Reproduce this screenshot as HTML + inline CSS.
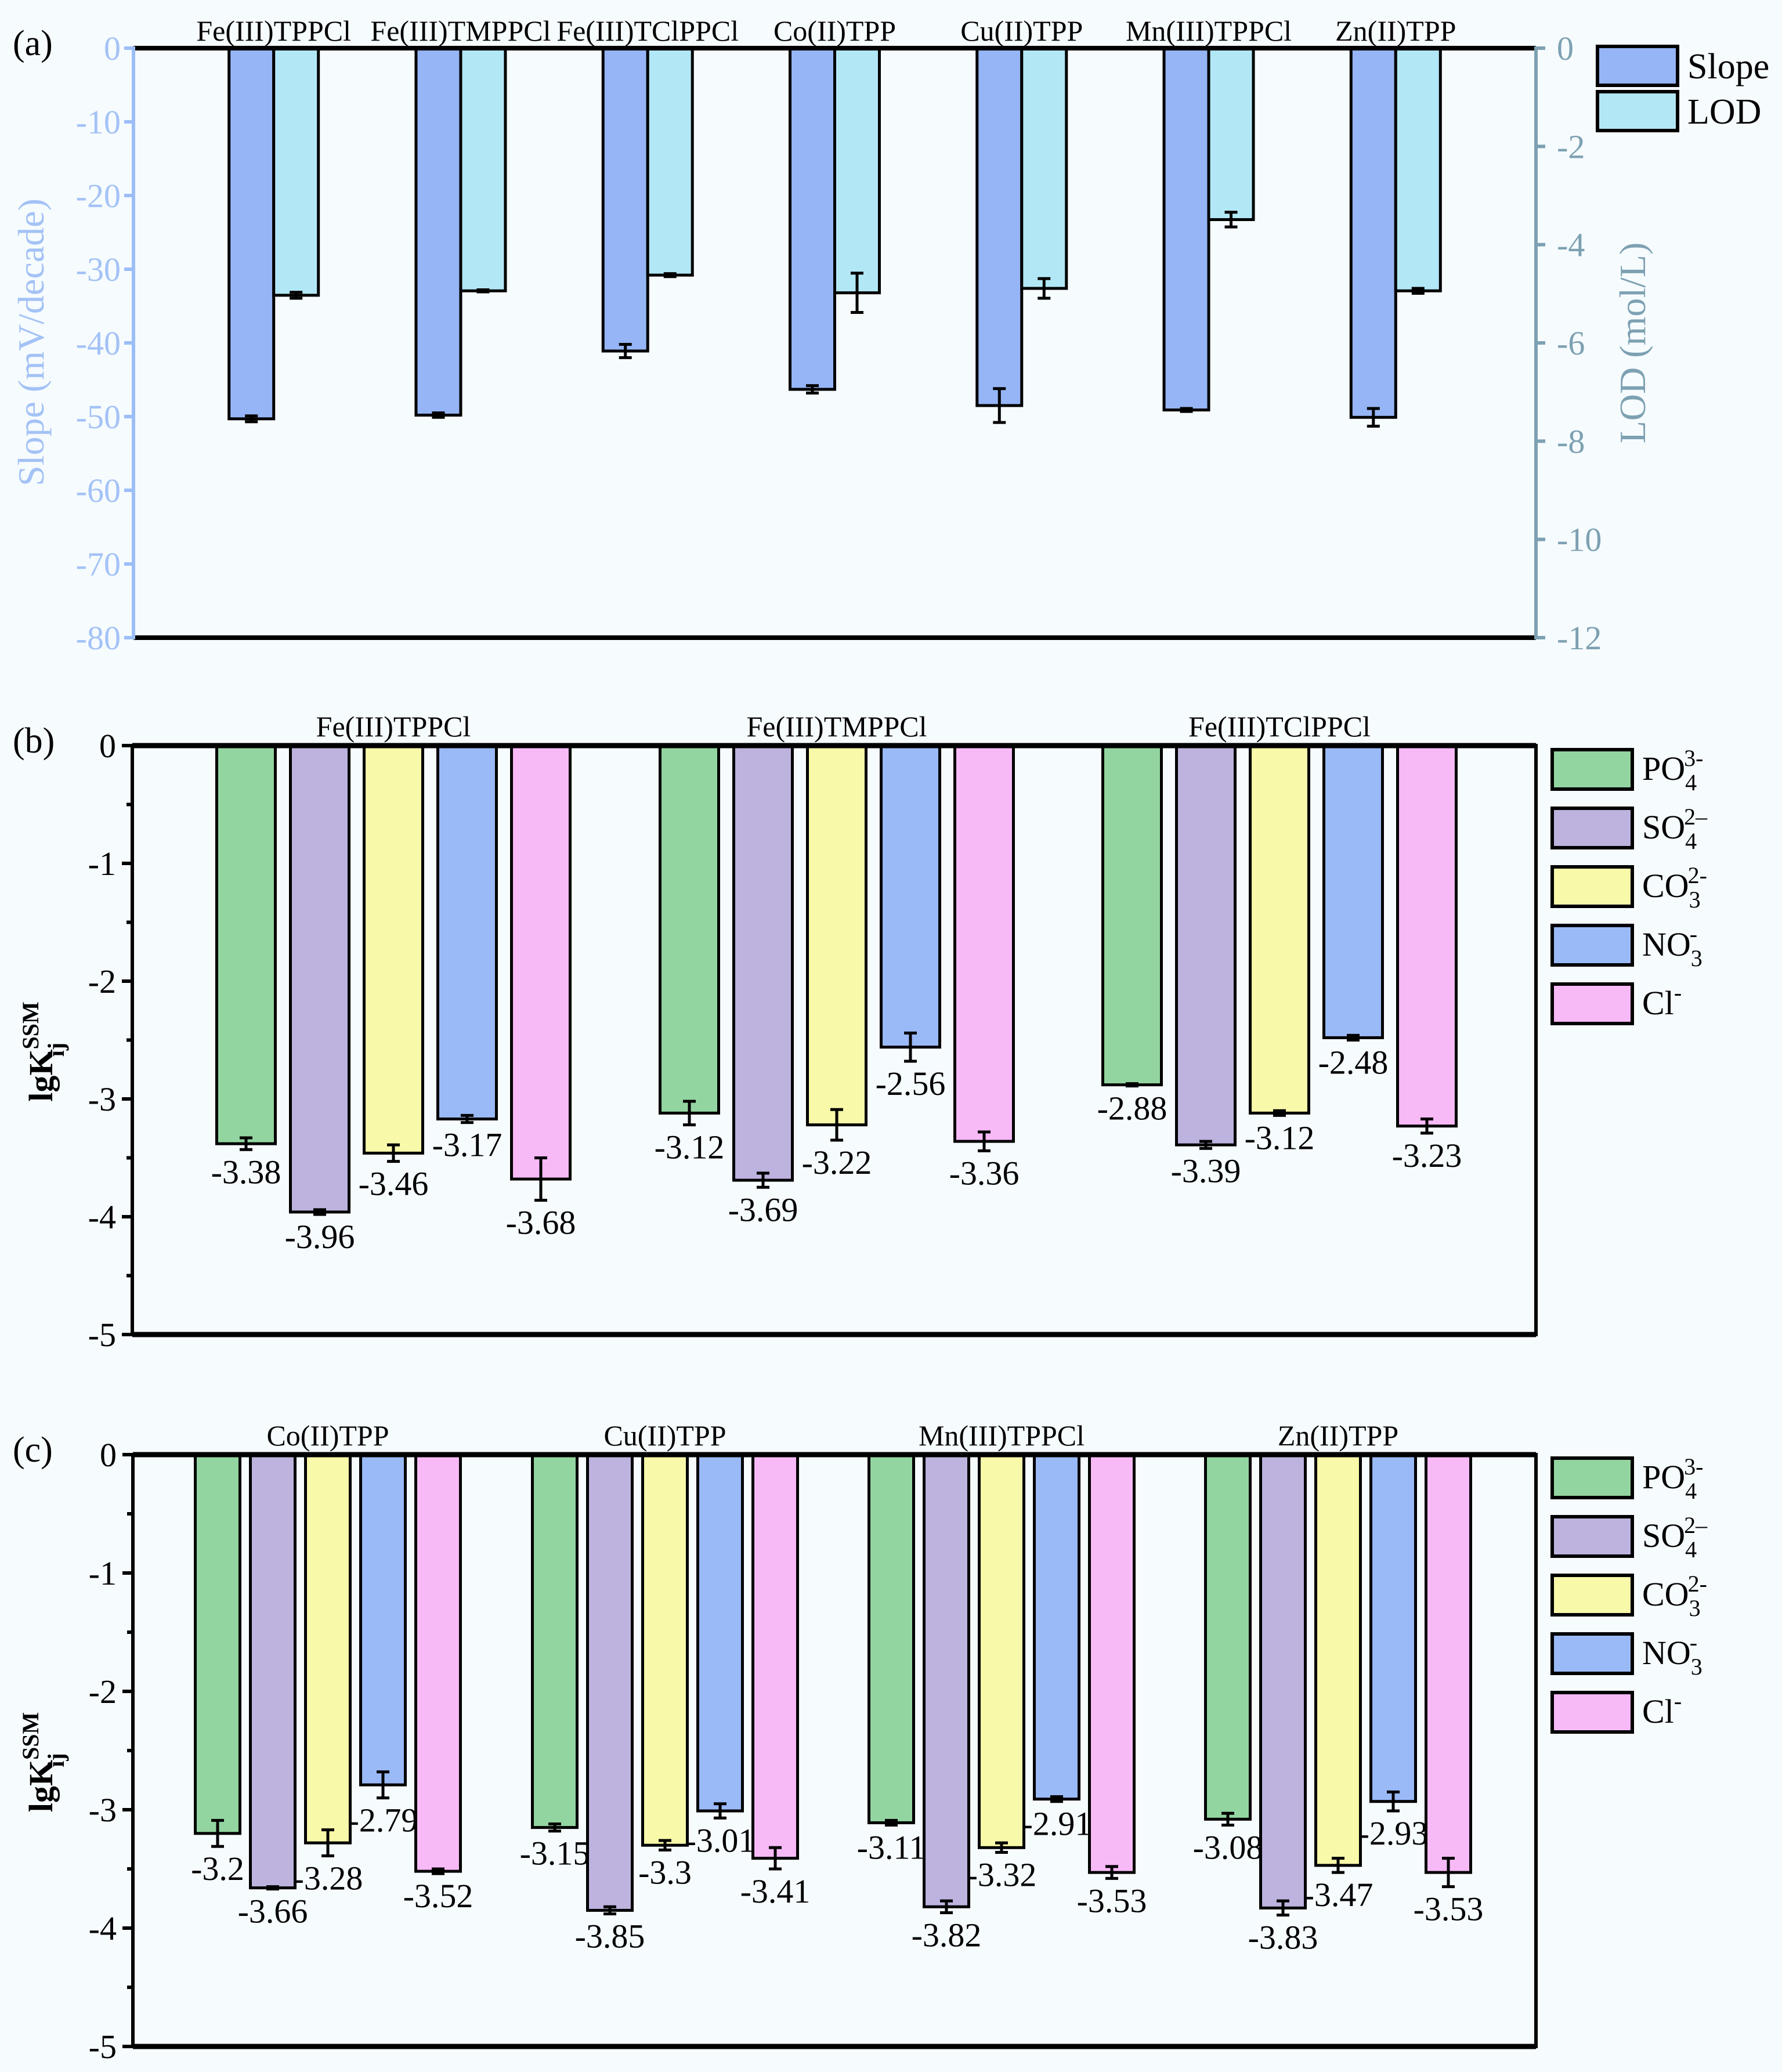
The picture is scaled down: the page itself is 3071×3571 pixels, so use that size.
<!DOCTYPE html>
<html><head><meta charset="utf-8"><style>
html,body{margin:0;padding:0;background:#f6fbfe;}
svg{display:block;font-family:"Liberation Serif",serif;}
</style></head><body>
<svg id="chart" width="3071" height="3571" viewBox="0 0 3071 3571" xmlns="http://www.w3.org/2000/svg">
<rect x="0" y="0" width="3071" height="3571" fill="#f6fbfe"/>
</svg>
<script>
// Panel (a) data
const aCategories = ["Fe(III)TPPCl","Fe(III)TMPPCl","Fe(III)TClPPCl","Co(II)TPP","Cu(II)TPP","Mn(III)TPPCl","Zn(II)TPP"];
const aSlope = [-50.3,-49.8,-41.1,-46.3,-48.5,-49.1,-50.1];
const aSlopeErr = [0.4,0.3,0.9,0.5,2.3,0.2,1.2];
const aLOD = [-5.03,-4.94,-4.62,-4.98,-4.89,-3.49,-4.94];
const aLODErr = [0.06,0.02,0.03,0.4,0.2,0.15,0.05];
const aLeftTicks = [0,-10,-20,-30,-40,-50,-60,-70,-80];
const aRightTicks = [0,-2,-4,-6,-8,-10,-12];
// Panel (b) data
const bCategories = ["Fe(III)TPPCl","Fe(III)TMPPCl","Fe(III)TClPPCl"];
const bPO4 = [-3.38,-3.12,-2.88];
const bSO4 = [-3.96,-3.69,-3.39];
const bCO3 = [-3.46,-3.22,-3.12];
const bNO3 = [-3.17,-2.56,-2.48];
const bCl  = [-3.68,-3.36,-3.23];
const bErrPO4 = [0.05,0.1,0.01];
const bErrSO4 = [0.02,0.06,0.03];
const bErrCO3 = [0.07,0.13,0.02];
const bErrNO3 = [0.03,0.12,0.02];
const bErrCl  = [0.18,0.08,0.06];
// Panel (c) data
const cCategories = ["Co(II)TPP","Cu(II)TPP","Mn(III)TPPCl","Zn(II)TPP"];
const cPO4 = [-3.2,-3.15,-3.11,-3.08];
const cSO4 = [-3.66,-3.85,-3.82,-3.83];
const cCO3 = [-3.28,-3.3,-3.32,-3.47];
const cNO3 = [-2.79,-3.01,-2.91,-2.93];
const cCl  = [-3.52,-3.41,-3.53,-3.53];
const cErrPO4 = [0.11,0.03,0.02,0.05];
const cErrSO4 = [0.01,0.03,0.05,0.06];
const cErrCO3 = [0.11,0.04,0.04,0.06];
const cErrNO3 = [0.11,0.06,0.02,0.08];
const cErrCl  = [0.02,0.09,0.05,0.12];
const lgTicks = [0,-1,-2,-3,-4,-5];
const ionNames = ["PO4","SO4","CO3","NO3","Cl"];

const NS = "http://www.w3.org/2000/svg";
const svg = document.getElementById('chart');
function mk(tag, attrs, parent){
  const e = document.createElementNS(NS, tag);
  for (const k in attrs) e.setAttribute(k, attrs[k]);
  (parent||svg).appendChild(e);
  return e;
}
function txt(s, attrs, parent){ const e = mk('text', attrs, parent); e.textContent = s; return e; }
function errBar(g, x, y1, y2){
  const e = mk('path', {d:`M${x},${y1}V${y2}M${x-11},${y1}H${x+11}M${x-11},${y2}H${x+11}`, stroke:'#000','stroke-width':5,fill:'none'}, g);
  
  
}

// ===== Panel (a) =====
(function(){
  const L=230, R=2647, T=83, B=1099;
  const ys = v => T + (v/-80)*(B-T);
  const yr = v => T + (v/-12)*(B-T);
  const pitch = (R-L)/7.5, first = L + 0.75*pitch, bw = 77;
  const gx = i => first + i*pitch;
  const g = mk('g', {});  
  const pl = txt('(a)', {x:22, y:95, 'font-size':62}, g);
   
  aCategories.forEach((c,i)=>{
    const x = gx(i);
    const sb = mk('rect', {x:x-bw, y:T, width:bw, height:ys(aSlope[i])-T, fill:'#96b5f6', stroke:'#000','stroke-width':5}, g);
     
    const lb = mk('rect', {x:x, y:T, width:bw, height:yr(aLOD[i])-T, fill:'#b2e7f6', stroke:'#000','stroke-width':5}, g);
     
    errBar(g, x-bw/2, ys(aSlope[i]-aSlopeErr[i]), ys(aSlope[i]+aSlopeErr[i]));
    errBar(g, x+bw/2, yr(aLOD[i]-aLODErr[i]), yr(aLOD[i]+aLODErr[i]));
    const t = txt(c, {x:x, y:70, 'font-size':50, 'text-anchor':'middle'}, g);
     
  });
  const top = mk('line',{x1:L,y1:T,x2:R,y2:T,stroke:'#000','stroke-width':8},g);
   
  const bot = mk('line',{x1:L,y1:B,x2:R,y2:B,stroke:'#000','stroke-width':8},g);
   
  const la = mk('line',{x1:L,y1:T-3,x2:L,y2:B+3,stroke:'#9cbef7','stroke-width':6},g);
   
  const ra = mk('line',{x1:R,y1:T-3,x2:R,y2:B+3,stroke:'#7da1b2','stroke-width':6},g);
   
  aLeftTicks.forEach(v=>{
    mk('line',{x1:L-16,y1:ys(v),x2:L,y2:ys(v),stroke:'#9cbef7','stroke-width':6},g);
    const t = txt(String(v),{x:L-22,y:ys(v)+20,'font-size':58,'text-anchor':'end',fill:'#a3c2f6'},g);
     
  });
  aRightTicks.forEach(v=>{
    mk('line',{x1:R,y1:yr(v),x2:R+16,y2:yr(v),stroke:'#7da1b2','stroke-width':6},g);
    const t = txt(String(v),{x:R+36,y:yr(v)+20,'font-size':58,'text-anchor':'start',fill:'#7da1b2'},g);
     
  });
  const lt = txt('Slope (mV/decade)',{x:0,y:0,'font-size':64,'text-anchor':'middle',fill:'#a3c2f6',transform:'translate(75,590) rotate(-90)'},g);
   
  const rt = txt('LOD (mol/L)',{x:0,y:0,'font-size':64,'text-anchor':'middle',fill:'#7da1b2',transform:'translate(2835,591) rotate(-90)'},g);
   
  const leg = mk('g',{},g);  
  const r1 = mk('rect',{x:2753,y:80,width:138,height:67,fill:'#96b5f6',stroke:'#000','stroke-width':6},leg);
   
  const r2 = mk('rect',{x:2753,y:158,width:138,height:67,fill:'#b2e7f6',stroke:'#000','stroke-width':6},leg);
   
  const s1 = txt('Slope',{x:2908,y:135,'font-size':62},leg);
   
  const s2 = txt('LOD',{x:2908,y:213,'font-size':62},leg);
   
})();

// ===== Panels (b) and (c) =====
const ionColors = ['#93d5a1','#bdb3de','#f8f9a9','#9ab9f7','#f8b9f7'];
function lgPanel(opts){
  const {name, letter, L, R, T, B, cats, series, errs, centers, bw, pitch, legY} = opts;
  const y = v => T + (v/-5)*(B-T);
  const g = mk('g', {});  
  const pl = txt(letter, {x:22, y:T+12, 'font-size':62}, g);
   
  cats.forEach((c,i)=>{
    const cx = centers[i];
    const t = txt(c, {x:cx, y:T-16, 'font-size':50, 'text-anchor':'middle'}, g);
     
    series.forEach((s,k)=>{
      const bx = cx + (k-2)*pitch;
      const v = s[i], e = errs[k][i];
      const r = mk('rect',{x:bx-bw/2,y:T,width:bw,height:y(v)-T,fill:ionColors[k],stroke:'#000','stroke-width':5},g);
      
      
      errBar(g, bx, y(v-e), y(v+e));
      const vl = txt(String(v),{x:bx,y:y(v-e)+58,'font-size':58,'text-anchor':'middle'},g);
      
      
    });
  });
  const frame = mk('rect',{x:L,y:T,width:R-L,height:B-T,fill:'none',stroke:'#000','stroke-width':6},g);
   
  mk('line',{x1:L,y1:T,x2:R,y2:T,stroke:'#000','stroke-width':9},g);
  mk('line',{x1:L,y1:B,x2:R,y2:B,stroke:'#000','stroke-width':9},g);
  lgTicks.forEach(v=>{
    mk('line',{x1:L-18,y1:y(v),x2:L,y2:y(v),stroke:'#000','stroke-width':6},g);
    if (v>-5) mk('line',{x1:L-10,y1:y(v-0.5),x2:L,y2:y(v-0.5),stroke:'#000','stroke-width':6},g);
    const t = txt(String(v),{x:L-28,y:y(v)+20,'font-size':58,'text-anchor':'end'},g);
     
  });
  const yt = mk('text',{x:0,y:0,'font-size':58,'font-weight':'bold','text-anchor':'middle',transform:`translate(90,${(T+B)/2+20}) rotate(-90)`},g);
   
  yt.innerHTML = 'lgK<tspan dy="-24" font-size="40">SSM</tspan><tspan dx="-95" dy="44" font-size="40">ij</tspan>';
  const leg = mk('g',{},g);  
  const labs = [['PO','4','3-'],['SO','4','2\u2013'],['CO','3','2-'],['NO','3','-'],['Cl','','-']];
  labs.forEach((lab,k)=>{
    const yy = legY + k*101;
    const r = mk('rect',{x:2675,y:yy,width:138,height:68,fill:ionColors[k],stroke:'#000','stroke-width':6},leg);
    
    
    const t = mk('text',{x:2830,y:yy+52,'font-size':58},leg);
    
    
    let html = lab[0];
    if (lab[1]) html += `<tspan dy="18" font-size="40">${lab[1]}</tspan><tspan dx="-22" dy="-42" font-size="40">${lab[2]}</tspan>`;
    else html += `<tspan dy="-24" font-size="40">${lab[2]}</tspan>`;
    t.innerHTML = html;
  });
}
lgPanel({name:'panel-b', letter:'(b)', L:228, R:2647, T:1285, B:2300, cats:bCategories,
  series:[bPO4,bSO4,bCO3,bNO3,bCl], errs:[bErrPO4,bErrSO4,bErrCO3,bErrNO3,bErrCl],
  centers:[678,1442,2205], bw:101, pitch:127, legY:1292});
lgPanel({name:'panel-c', letter:'(c)', L:229, R:2647, T:2507, B:3527, cats:cCategories,
  series:[cPO4,cSO4,cCO3,cNO3,cCl], errs:[cErrPO4,cErrSO4,cErrCO3,cErrNO3,cErrCl],
  centers:[565,1146,1726,2306], bw:77, pitch:95, legY:2513});
</script>
</body></html>
